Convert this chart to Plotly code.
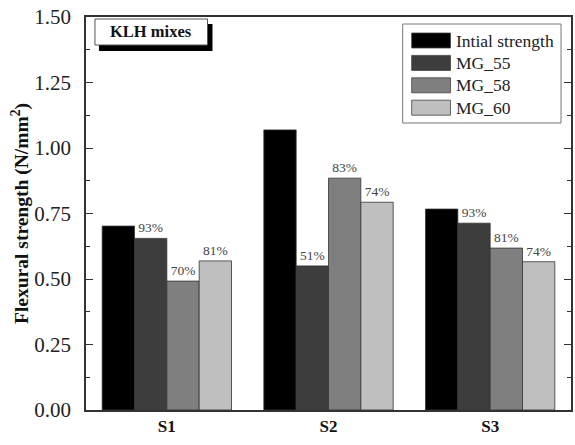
import plotly.graph_objects as go

categories = ["S1", "S2", "S3"]
series_names = ["Intial strength", "MG_55", "MG_58", "MG_60"]
initial = [0.702, 1.069, 0.767]
mg55 = [0.655, 0.550, 0.713]
mg58 = [0.492, 0.885, 0.618]
mg60 = [0.569, 0.793, 0.566]
labels55 = ["93%", "51%", "93%"]
labels58 = ["70%", "83%", "81%"]
labels60 = ["81%", "74%", "74%"]
y_ticks = [0.0, 0.25, 0.5, 0.75, 1.0, 1.25, 1.5]
y_ticklabels = ["0.00", "0.25", "0.50", "0.75", "1.00", "1.25", "1.50"]

W, H = 575, 445
ML, MR, MT, MB = 86, 2, 17, 35
pw, ph = W - ML - MR, H - MT - MB

def px(x):
    return (x - ML) / pw

def py(y):
    return 1 - (y - MT) / ph

SERIF = "Liberation Serif"
colors = ["#000000", "#3d3d3d", "#7f7f7f", "#bfbfbf"]
values = [initial, mg55, mg58, mg60]
texts = [None, labels55, labels58, labels60]

fig = go.Figure()
for name, vals, col, txt in zip(series_names, values, colors, texts):
    fig.add_trace(go.Bar(
        name=name, x=categories, y=vals,
        marker=dict(color=col, line=dict(color="#333333", width=0.8)),
        text=txt, textposition="outside" if txt else "none",
        textfont=dict(family=SERIF, size=13.5, color="#444444"),
        cliponaxis=False, showlegend=False,
    ))

shapes = [
    # title box shadow and box
    dict(type="rect", xref="paper", yref="paper",
         x0=px(99), x1=px(213), y0=py(51), y1=py(24),
         fillcolor="black", line=dict(width=0), layer="above"),
    dict(type="rect", xref="paper", yref="paper",
         x0=px(95), x1=px(208), y0=py(45), y1=py(19),
         fillcolor="white", line=dict(color="#555555", width=1), layer="above"),
    # legend box
    dict(type="rect", xref="paper", yref="paper",
         x0=px(404), x1=px(563), y0=py(123), y1=py(24),
         fillcolor="white", line=dict(color="#777777", width=1), layer="above"),
]
annotations = [
    dict(text="<b>KLH mixes</b>", xref="paper", yref="paper",
         x=px(151.5), y=py(32), xanchor="center", yanchor="middle",
         showarrow=False, font=dict(family=SERIF, size=16.5, color="#111111")),
]
row_top = 33
row_pitch = 22.4
for i, (name, col) in enumerate(zip(series_names, colors)):
    y0 = row_top + i * row_pitch
    shapes.append(dict(type="rect", xref="paper", yref="paper",
                       x0=px(413), x1=px(452), y0=py(y0 + 15), y1=py(y0),
                       fillcolor=col, line=dict(color="#444444", width=0.8),
                       layer="above"))
    annotations.append(dict(text=name, xref="paper", yref="paper",
                            x=px(456), y=py(y0 + 7.5), xanchor="left",
                            yanchor="middle", showarrow=False,
                            font=dict(family=SERIF, size=17.5, color="#222222")))

fig.update_layout(
    width=W, height=H,
    margin=dict(l=ML, r=MR, t=MT, b=MB),
    barmode="group", bargap=0.2, bargroupgap=0,
    plot_bgcolor="white", paper_bgcolor="white",
    font=dict(family=SERIF, size=16, color="#222222"),
    showlegend=False,
    xaxis=dict(
        showline=True, linecolor="#333333", linewidth=1.5, mirror=True,
        ticks="", tickfont=dict(family=SERIF, size=17, color="#111111", weight="bold"),
        range=[-0.5, 2.5],
    ),
    yaxis=dict(
        range=[0, 1.5], tickvals=y_ticks, ticktext=y_ticklabels,
        showline=True, linecolor="#333333", linewidth=1.5, mirror="ticks",
        ticks="inside", ticklen=7, tickcolor="#333333",
        minor=dict(dtick=0.125, tick0=0, ticks="inside", ticklen=4, tickcolor="#333333"),
        showgrid=False, zeroline=False, ticklabelstandoff=9,
        tickfont=dict(family=SERIF, size=21, color="#222222"),
        title=dict(text="Flexural strength (N/mm<sup>2</sup>)",
                   font=dict(family=SERIF, size=19.5, color="#111111", weight="bold"),
                   standoff=0),
    ),
    shapes=shapes,
    annotations=annotations,
)

fig.write_html("out.html")
